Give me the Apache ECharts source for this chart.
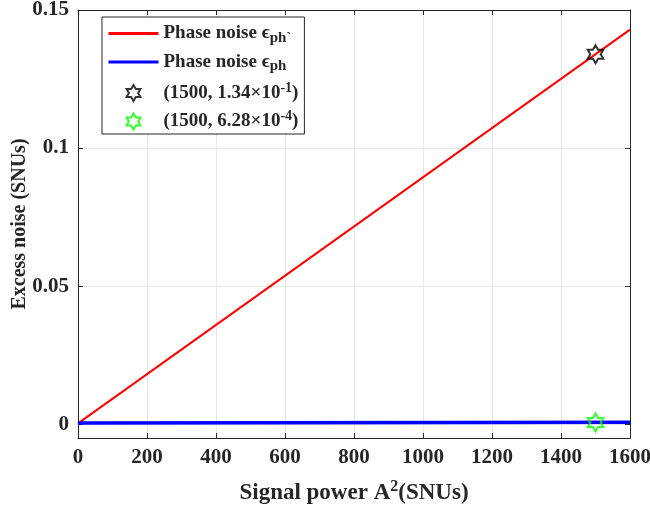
<!DOCTYPE html>
<html><head><meta charset="utf-8">
<script src="https://cdn.jsdelivr.net/npm/echarts@6/dist/echarts.min.js"></script>
<style>html,body{margin:0;padding:0;background:#fff}#c{width:650px;height:509px}</style>
</head><body><div id="c"></div>
<script>
const xPts = [0, 1600];
const redVals = [0.0003, 0.1429];
const blueVals = [0.0004, 0.0007];
const markBlack = [[1500, 0.134]];
const markGreen = [[1500, 0.000628]];
const yTicks = [0, 0.05, 0.1, 0.15];
const seriesNames = ['red', 'blue', 'mk1', 'mk2'];

const star = 'path://M50 0 L35.57 25 L6.7 25 L21.13 50 L6.7 75 L35.57 75 L50 100 L64.43 75 L93.3 75 L78.87 50 L93.3 25 L64.43 25 Z';
const FONT = '"Liberation Serif","Times New Roman",serif';
const TXT = '#262626';

const legendLabels = {
  red: '{m|Phase noise \u03F5}{s|ph`}',
  blue: '{m|Phase noise \u03F5}{s|ph}',
  mk1: '{m|(1500, 1.34\u00D710}{u|-1}{m|)}',
  mk2: '{m|(1500, 6.28\u00D710}{u|-4}{m|)}'
};

const chart = echarts.init(document.getElementById('c'), null, {renderer: 'canvas'});
const axisCommon = {
  axisLine: {show: true, onZero: false, lineStyle: {color: TXT, width: 1}},
  axisTick: {show: true, inside: true, length: 5, lineStyle: {color: TXT}},
};
chart.setOption({
  animation: false,
  backgroundColor: '#fff',
  textStyle: {fontFamily: FONT},
  grid: {left: 78, right: 20, top: 10, bottom: 71, containLabel: false, outerBoundsMode: 'none'},
  legend: {
    left: 102, top: 17, orient: 'vertical',
    data: [
      {name: 'red', itemStyle: {opacity: 0}, lineStyle: {width: 3}},
      {name: 'blue', itemStyle: {opacity: 0}, lineStyle: {width: 3}},
      {name: 'mk1'},
      {name: 'mk2'}
    ],
    itemWidth: 50, itemHeight: 16, itemGap: 7,
    padding: [7, 6, 3, 5],
    borderColor: TXT, borderWidth: 1, backgroundColor: '#fff',
    formatter: n => legendLabels[n],
    textStyle: {
      fontFamily: FONT, color: TXT,
      rich: {
        m: {fontFamily: FONT, fontWeight: 'bold', fontSize: 19, color: TXT, lineHeight: 24, verticalAlign: 'middle'},
        s: {fontFamily: FONT, fontWeight: 'bold', fontSize: 15, color: TXT, lineHeight: 14, verticalAlign: 'bottom'},
        u: {fontFamily: FONT, fontWeight: 'bold', fontSize: 14, color: TXT, lineHeight: 14, verticalAlign: 'top'}
      }
    },
    z: 10
  },
  xAxis: [{
    type: 'value', min: 0, max: 1600, interval: 200, position: 'bottom',
    ...axisCommon,
    axisLabel: {fontFamily: FONT, fontWeight: 'bold', fontSize: 21, color: TXT, margin: 9, formatter: v => String(v)},
    splitLine: {show: true, lineStyle: {color: '#e6e6e6', width: 1}},
    name: '{a|Signal power A}{b|2}{a|(SNUs)}', nameLocation: 'middle', nameGap: 41, nameMoveOverlap: false,
    nameTextStyle: {rich: {
      a: {fontFamily: FONT, fontWeight: 'bold', fontSize: 23, color: TXT, lineHeight: 28},
      b: {fontFamily: FONT, fontWeight: 'bold', fontSize: 16, color: TXT, lineHeight: 28, padding: [0, 0, 12, 0]}
    }}
  }, {
    type: 'value', min: 0, max: 1600, interval: 200, position: 'top',
    ...axisCommon, axisLabel: {show: false}, splitLine: {show: false}
  }],
  yAxis: [{
    type: 'value', min: -0.005, max: 0.15, position: 'left',
    ...axisCommon,
    axisTick: {show: true, inside: true, length: 5, lineStyle: {color: TXT}, customValues: yTicks},
    axisLabel: {fontFamily: FONT, fontWeight: 'bold', fontSize: 21, color: TXT, margin: 9, customValues: yTicks, showMinLabel: true, showMaxLabel: true},
    splitLine: {show: true, lineStyle: {color: '#e6e6e6', width: 1}},
    name: 'Excess noise (SNUs)', nameLocation: 'middle', nameGap: 48, nameMoveOverlap: false,
    nameTextStyle: {fontFamily: FONT, fontWeight: 'bold', fontSize: 20, color: TXT}
  }, {
    type: 'value', min: -0.005, max: 0.15, position: 'right',
    ...axisCommon,
    axisTick: {show: true, inside: true, length: 5, lineStyle: {color: TXT}, customValues: yTicks},
    axisLabel: {show: false}, splitLine: {show: false}
  }],
  series: [
    {name: 'red', type: 'line', data: xPts.map((x, i) => [x, redVals[i]]), symbol: 'none',
     lineStyle: {color: '#ff0000', width: 2}, itemStyle: {color: '#ff0000'}, z: 3},
    {name: 'blue', type: 'line', data: xPts.map((x, i) => [x, blueVals[i]]), symbol: 'none',
     lineStyle: {color: '#0000ff', width: 3.5}, itemStyle: {color: '#0000ff'}, z: 3},
    {name: 'mk1', type: 'scatter', data: markBlack, symbol: star, symbolSize: 18, symbolKeepAspect: true,
     itemStyle: {color: 'rgba(0,0,0,0)', borderColor: '#000', borderWidth: 2}, z: 4},
    {name: 'mk2', type: 'scatter', data: markGreen, symbol: star, symbolSize: 18, symbolKeepAspect: true,
     itemStyle: {color: 'rgba(0,0,0,0)', borderColor: '#00ff00', borderWidth: 2}, z: 4}
  ]
});
</script></body></html>
